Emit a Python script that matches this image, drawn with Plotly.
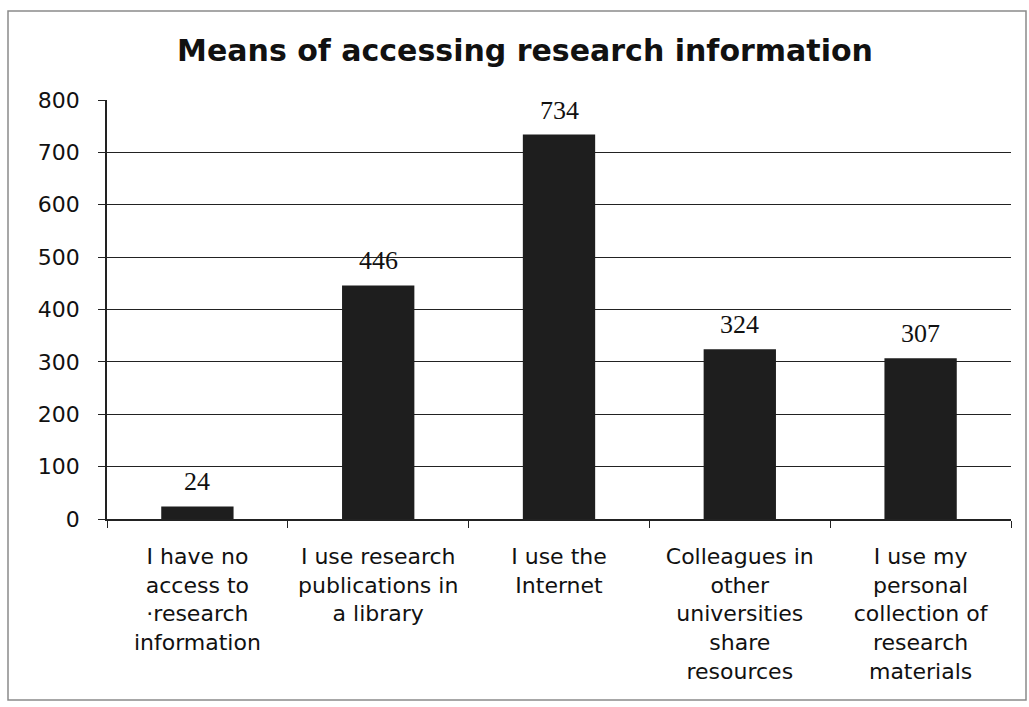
import plotly.graph_objects as go

categories = [
    "I have no<br>access to<br>·research<br>information",
    "I use research<br>publications in<br>a library",
    "I use the<br>Internet",
    "Colleagues in<br>other<br>universities<br>share<br>resources",
    "I use my<br>personal<br>collection of<br>research<br>materials",
]
values = [24, 446, 734, 324, 307]
y_ticks = [0, 100, 200, 300, 400, 500, 600, 700, 800]

fig = go.Figure()
fig.add_trace(go.Bar(
    x=categories, y=values, width=0.4,
    marker=dict(color="#1e1e1e", line=dict(width=0)),
    hoverinfo="skip",
))

for c, v in zip(categories, values):
    fig.add_annotation(
        x=c, y=v, text=str(v), showarrow=False, yanchor="bottom", yshift=8,
        font=dict(family="Liberation Serif", size=26, color="#111"),
    )

L, R, T, B = 107, 18, 100, 188
W, H = 1029, 707
pw, ph = W - L - R, H - T - B
fig.add_shape(
    type="rect", xref="paper", yref="paper",
    x0=(8 - L) / pw, x1=(1026 - L) / pw,
    y0=(H - B - 700) / ph, y1=(H - B - 11) / ph,
    line=dict(color="#8a8a8a", width=1.5), fillcolor="rgba(0,0,0,0)", layer="below",
)

fig.update_layout(
    width=W, height=H,
    margin=dict(l=L, r=R, t=T, b=B),
    paper_bgcolor="white", plot_bgcolor="white",
    showlegend=False,
    title=dict(
        text="<b>Means of accessing research information</b>",
        x=525 / W, xanchor="center", y=1 - 50 / H, yanchor="middle",
        font=dict(family="DejaVu Sans", size=30, color="#111"),
    ),
    font=dict(family="DejaVu Sans", color="#111"),
)
fig.update_xaxes(
    showline=True, linecolor="#222", linewidth=1.5,
    ticks="outside", tickson="boundaries", ticklen=7, tickcolor="#222",
    tickfont=dict(family="DejaVu Sans", size=22, color="#111"),
    ticklabelstandoff=17,
    showgrid=False,
)
fig.update_yaxes(
    range=[0, 800], tickvals=y_ticks,
    showline=True, linecolor="#222", linewidth=1.5,
    ticks="outside", ticklen=7, tickcolor="#222",
    showgrid=True, gridcolor="#222", gridwidth=1.2,
    tickfont=dict(family="DejaVu Sans", size=22, color="#111"),
    ticklabelstandoff=14,
    zeroline=False,
)

fig.write_html("out.html")
